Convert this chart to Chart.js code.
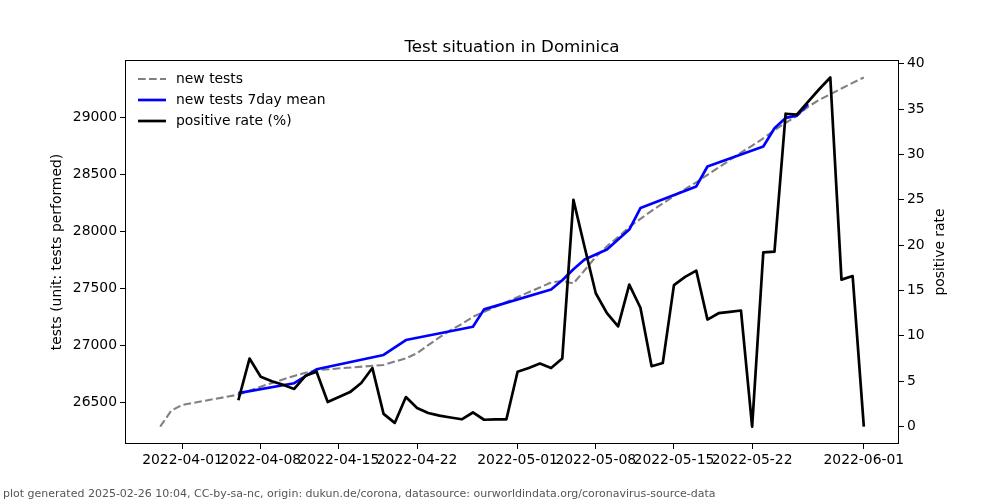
<!DOCTYPE html>
<html><head><meta charset="utf-8">
<script src="https://cdn.jsdelivr.net/npm/chart.js@4/dist/chart.umd.min.js"></script>
<style>html,body{margin:0;padding:0;background:#fff}#wrap{width:1000px;height:500px}</style>
</head><body><div id="wrap"><canvas id="c" width="1000" height="500"></canvas></div>
<script>
// ---- data ----
const dates = [
 '2022-03-30','2022-03-31',
 '2022-04-01','2022-04-02','2022-04-03','2022-04-04','2022-04-05','2022-04-06','2022-04-07','2022-04-08','2022-04-09','2022-04-10',
 '2022-04-11','2022-04-12','2022-04-13','2022-04-14','2022-04-15','2022-04-16','2022-04-17','2022-04-18','2022-04-19','2022-04-20',
 '2022-04-21','2022-04-22','2022-04-23','2022-04-24','2022-04-25','2022-04-26','2022-04-27','2022-04-28','2022-04-29','2022-04-30',
 '2022-05-01','2022-05-02','2022-05-03','2022-05-04','2022-05-05','2022-05-06','2022-05-07','2022-05-08','2022-05-09','2022-05-10',
 '2022-05-11','2022-05-12','2022-05-13','2022-05-14','2022-05-15','2022-05-16','2022-05-17','2022-05-18','2022-05-19','2022-05-20',
 '2022-05-21','2022-05-22','2022-05-23','2022-05-24','2022-05-25','2022-05-26','2022-05-27','2022-05-28','2022-05-29','2022-05-30',
 '2022-05-31','2022-06-01'
];
const newTests = [
 26293,26433,
 26483,null,null,null,null,26572,null,26642,null,null,
 26736,26764,26786,null,null,null,null,null,26832,null,
 26890,26934,27006,27073,27137,27189,27253,27297,null,null,
 null,null,null,27553,27567,27545,27660,27777,27870,27950,
 28040,28110,28180,28245,28310,28370,28430,28495,28560,28625,
 28690,28750,28815,28885,28950,29010,29090,29150,29200,29250,
 29300,29347
];
const newTestsMean = [
 null,null,
 null,null,null,null,null,26585,null,null,null,null,
 26672,null,26794,null,null,null,null,null,26919,null,
 27050,null,null,null,null,null,27166,27318,null,null,
 null,null,null,27492,27573,27669,27754,null,27841,null,
 28016,28204,null,null,null,null,28394,28568,null,null,
 null,null,28743,28902,28993,29013,29115,null,null,null,
 null,null
];
const positiveRate = [
 null,null,
 null,null,null,null,null,2.9,7.5,5.5,5.0,4.6,
 4.15,5.6,6.05,2.7,3.25,3.8,4.8,6.45,1.4,0.4,
 3.25,2.05,1.5,1.2,1.0,0.8,1.55,0.75,0.78,0.8,
 6.05,6.45,6.95,6.45,7.5,25.0,19.8,14.7,12.5,11.05,
 15.65,13.1,6.65,7.0,15.6,16.5,17.2,11.8,12.5,12.65,
 12.8,0,19.2,19.3,34.5,34.4,35.8,37.2,38.5,16.2,
 16.6,0
];
const xTickLabels = ['2022-04-01','2022-04-08','2022-04-15','2022-04-22','2022-05-01','2022-05-08','2022-05-15','2022-05-22','2022-06-01'];
const leftTicks = [26500,27000,27500,28000,28500,29000];
const rightTicks = [0,5,10,15,20,25,30,35,40];
const seriesLabels = ['new tests','new tests 7day mean','positive rate (%)'];
const titleText = 'Test situation in Dominica';
const leftAxisTitle = 'tests (unit: tests performed)';
const rightAxisTitle = 'positive rate';
const footerText = 'plot generated 2025-02-26 10:04, CC-by-sa-nc, origin: dukun.de/corona, datasource: ourworldindata.org/coronavirus-source-data';

// ---- helpers ----
const DAY = 86400000;
const ref = Date.parse('2022-04-01T00:00:00Z');
const dayOf = s => (Date.parse(s + 'T00:00:00Z') - ref) / DAY;
const toPts = arr => dates.map((d, i) => ({x: dayOf(d), y: arr[i]}));
const xTickDays = xTickLabels.map(dayOf);
const FONT = "'DejaVu Sans', sans-serif";
Chart.defaults.font.family = FONT;
Chart.defaults.color = '#000';

const tickFont = {family: FONT, size: 13.9};

const decor = {
  id: 'decor',
  afterDraw(chart) {
    const ctx = chart.ctx, a = chart.chartArea;
    ctx.save();
    // frame
    ctx.strokeStyle = '#000'; ctx.lineWidth = 1;
    ctx.strokeRect(Math.round(a.left) + 0.5, Math.round(a.top) + 0.5, Math.round(a.right - a.left) - 1, Math.round(a.bottom - a.top) - 1);
    // title
    ctx.fillStyle = '#000';
    ctx.font = "16.7px " + FONT;
    ctx.textAlign = 'center'; ctx.textBaseline = 'alphabetic';
    ctx.fillText(titleText, (a.left + a.right) / 2, 52);
    // axis titles
    ctx.font = "13.9px " + FONT;
    ctx.textBaseline = 'middle';
    const cy = (a.top + a.bottom) / 2;
    ctx.save(); ctx.translate(57, cy); ctx.rotate(-Math.PI / 2); ctx.fillText(leftAxisTitle, 0, 0); ctx.restore();
    ctx.save(); ctx.translate(940, cy); ctx.rotate(-Math.PI / 2); ctx.fillText(rightAxisTitle, 0, 0); ctx.restore();
    // legend
    const rows = [79, 100, 121];
    const dsOrder = [0, 1, 2];
    ctx.textAlign = 'left';
    dsOrder.forEach((di, r) => {
      const ds = chart.data.datasets[di];
      ctx.save();
      ctx.strokeStyle = ds.borderColor; ctx.lineWidth = ds.borderWidth;
      ctx.setLineDash(ds.borderDash || []);
      ctx.beginPath(); ctx.moveTo(138, rows[r]); ctx.lineTo(166, rows[r]); ctx.stroke();
      ctx.restore();
      ctx.fillStyle = '#000';
      ctx.fillText(ds.label, 176, rows[r]);
    });
    // footer
    ctx.font = "11px " + FONT;
    ctx.fillStyle = '#555';
    ctx.textAlign = 'left';
    ctx.fillText(footerText, 3, 494);
    ctx.restore();
  }
};

new Chart(document.getElementById('c'), {
  type: 'line',
  data: {
    datasets: [
      {label: seriesLabels[0], data: toPts(newTests), yAxisID: 'y', borderColor: '#808080', borderWidth: 2.1, borderDash: [7.7, 3.3], order: 2},
      {label: seriesLabels[1], data: toPts(newTestsMean), yAxisID: 'y', borderColor: '#0000ff', borderWidth: 2.7, order: 1},
      {label: seriesLabels[2], data: toPts(positiveRate), yAxisID: 'y1', borderColor: '#000000', borderWidth: 2.7, order: 0}
    ]
  },
  options: {
    responsive: false,
    animation: false,
    devicePixelRatio: 1,
    spanGaps: true,
    elements: {point: {radius: 0, hoverRadius: 0}, line: {tension: 0, fill: false, borderJoinStyle: 'round', borderCapStyle: 'butt'}},
    layout: {padding: {top: 60, left: 0, right: 0, bottom: 0}},
    plugins: {legend: {display: false}, title: {display: false}, tooltip: {enabled: false}},
    events: [],
    scales: {
      x: {
        type: 'linear', position: 'bottom', min: -5.15, max: 64.15,
        grid: {display: true, drawOnChartArea: false, drawTicks: true, tickLength: 5, color: '#000', lineWidth: 1},
        border: {display: false},
        ticks: {autoSkip: false, maxRotation: 0, minRotation: 0, padding: 3, color: '#000', font: tickFont,
                callback: (v, i) => xTickLabels[i]},
        afterBuildTicks: s => { s.ticks = xTickDays.map(v => ({value: v})); },
        afterFit: s => { s.height = 56; }
      },
      y: {
        type: 'linear', position: 'left', min: 26140.3, max: 29499.7,
        grid: {display: true, drawOnChartArea: false, drawTicks: true, tickLength: 5, color: '#000', lineWidth: 1},
        border: {display: false},
        ticks: {padding: 3, color: '#000', font: tickFont, callback: v => String(v)},
        afterBuildTicks: s => { s.ticks = leftTicks.map(v => ({value: v})); },
        afterFit: s => { s.width = 125; }
      },
      y1: {
        type: 'linear', position: 'right', min: -1.925, max: 40.425,
        grid: {display: true, drawOnChartArea: false, drawTicks: true, tickLength: 5, color: '#000', lineWidth: 1},
        border: {display: false},
        ticks: {padding: 3, color: '#000', font: tickFont, callback: v => String(v)},
        afterBuildTicks: s => { s.ticks = rightTicks.map(v => ({value: v})); },
        afterFit: s => { s.width = 101; }
      }
    }
  },
  plugins: [decor]
});
</script>
</body></html>
